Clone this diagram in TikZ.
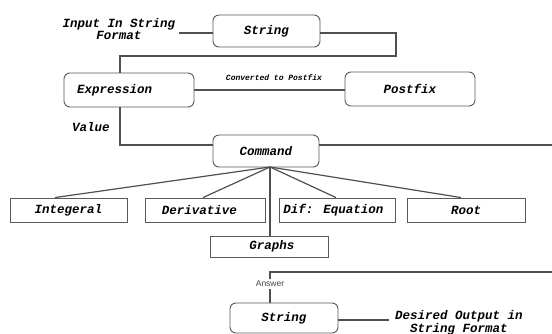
\documentclass[tikz,border=0pt]{standalone}
\usepackage{fontspec}
\newfontfamily\monofam{Liberation Mono}
\newfontfamily\sansfam{Liberation Sans}
\definecolor{linegray}{HTML}{505050}
\definecolor{boxgray}{HTML}{5A5A5A}
\definecolor{anscol}{HTML}{444444}
\tikzset{
  lbl/.style={font=\monofam\bfseries\itshape\fontsize{12.5}{10.5}\selectfont, text=black, inner sep=0pt},
  rbox/.style={draw=boxgray, line width=0.9pt, rounded corners=6pt, lbl},
  sbox/.style={draw=boxgray, line width=0.9pt, lbl},
  note/.style={lbl, align=center, inner sep=4pt},
  small/.style={font=\monofam\bfseries\itshape\fontsize{8}{9}\selectfont, inner sep=0pt},
  ans/.style={font=\sansfam\fontsize{8.5}{9}\selectfont, text=anscol, inner sep=2pt},
  conn/.style={draw=linegray, line width=1.2pt},
}
\begin{document}
\begin{tikzpicture}[x=1pt,y=-1pt]
\useasboundingbox (0,0) rectangle (552,334);
\fill[white] (0,0) rectangle (552,334);
% nodes
\node[rbox, minimum width=107pt, minimum height=32pt] (str1) at (266.5,31) {String};
\node[rbox, minimum height=34pt, text width=104pt, inner xsep=13pt, align=left] (expr) at (129,90) {Expression};
\node[rbox, minimum width=130pt, minimum height=34pt] (post) at (410,89) {Postfix};
\node[rbox, minimum width=106pt, minimum height=32pt] (cmd) at (266,151) {Command};
\node[sbox, minimum width=117pt, minimum height=24pt] (int) at (68.5,210) {Integeral};
\node[sbox, minimum width=120pt, minimum height=24pt] (der) at (205,210) {Derivative\hspace*{11pt}};
\node[sbox, minimum width=116pt, minimum height=24pt] (dif) at (337,210) {Dif: Equation\hspace*{7pt}};
\node[sbox, minimum width=118pt, minimum height=24pt] (root) at (466,210) {Root};
\node[sbox, minimum width=118pt, minimum height=21pt] (gr) at (269,246.5) {\hspace*{6pt}Graphs};
\node[rbox, minimum width=108pt, minimum height=30pt] (str2) at (284,318) {String};
% labels
\node[note] (inp) at (119,29) {Input In String\\Format};
\node[small] (conv) at (274,78) {Converted to Postfix};
\node[lbl] (val) at (91,127) {Value};
\node[ans] (answ) at (270,284) {Answer};
\node[note, inner sep=6pt] (des) at (459,322.5) {Desired Output in\\String Format};
% coordinates
\coordinate (c1) at (396,56);
\coordinate (ve) at (120,0);
\coordinate (vh) at (0,145);
\coordinate (redge) at (552,145);
\coordinate (hub) at (270,167);
\coordinate (aedge) at (552,272);
% connectors
\draw[conn] (inp.east |- 0,33) -- (str1.west |- 0,33);
\draw[conn] (str1.east |- 0,33) -| (c1) -| (expr.north -| ve);
\draw[conn] (expr.east) -- (expr.east -| post.west);
\draw[conn] (expr.south -| ve) |- (cmd.west |- vh);
\draw[conn] (cmd.east |- vh) -- (redge);
\draw[conn] (hub) -- ([xshift=-13.5pt]int.north);
\draw[conn] (hub) -- ([xshift=-2pt]der.north);
\draw[conn] (hub) -- ([xshift=-1pt]dif.north);
\draw[conn] (hub) -- ([xshift=-5pt]root.north);
\draw[conn] (hub) -- (hub |- gr.north);
\draw[conn] (aedge) -| (answ.north);
\draw[conn] (answ.south) -- (answ.south |- str2.north);
\draw[conn] (str2.east |- 0,320) -- (des.west |- 0,320);
\end{tikzpicture}
\end{document}
